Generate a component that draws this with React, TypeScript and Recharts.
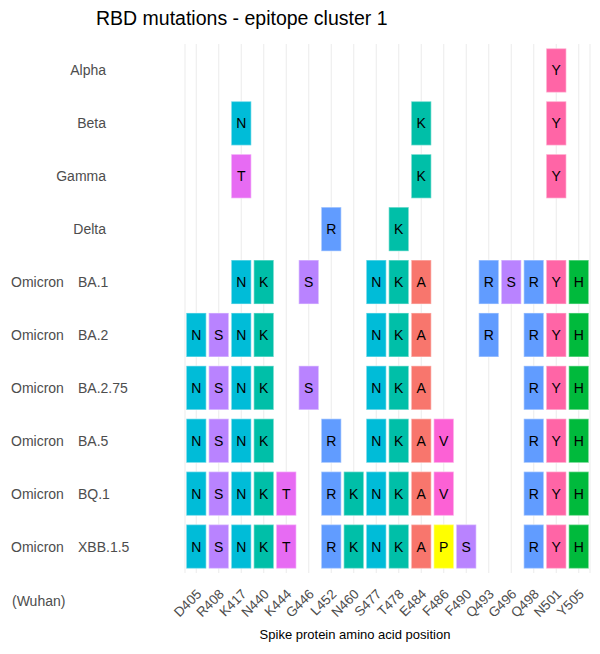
import React from 'react';
import { ScatterChart, Scatter, XAxis, YAxis, CartesianGrid } from 'recharts';

// spike positions (x axis) and variants (y axis, top to bottom)
const positions = [
  'D405', 'R408', 'K417', 'N440', 'K444', 'G446', 'L452', 'N460', 'S477',
  'T478', 'E484', 'F486', 'F490', 'Q493', 'G496', 'Q498', 'N501', 'Y505',
];
const variants = [
  'Alpha', 'Beta', 'Gamma', 'Delta', 'Omicron BA.1', 'Omicron BA.2',
  'Omicron BA.2.75', 'Omicron BA.5', 'Omicron BQ.1', 'Omicron XBB.1.5',
];

// mutations per variant, wild type + position + new residue
const alphaMuts = ['N501Y'];
const betaMuts = ['K417N', 'E484K', 'N501Y'];
const gammaMuts = ['K417T', 'E484K', 'N501Y'];
const deltaMuts = ['L452R', 'T478K'];
const ba1Muts = ['K417N', 'N440K', 'G446S', 'S477N', 'T478K', 'E484A', 'Q493R', 'G496S', 'Q498R', 'N501Y', 'Y505H'];
const ba2Muts = ['D405N', 'R408S', 'K417N', 'N440K', 'S477N', 'T478K', 'E484A', 'Q493R', 'Q498R', 'N501Y', 'Y505H'];
const ba275Muts = ['D405N', 'R408S', 'K417N', 'N440K', 'G446S', 'S477N', 'T478K', 'E484A', 'Q498R', 'N501Y', 'Y505H'];
const ba5Muts = ['D405N', 'R408S', 'K417N', 'N440K', 'L452R', 'S477N', 'T478K', 'E484A', 'F486V', 'Q498R', 'N501Y', 'Y505H'];
const bq1Muts = ['D405N', 'R408S', 'K417N', 'N440K', 'K444T', 'L452R', 'N460K', 'S477N', 'T478K', 'E484A', 'F486V', 'Q498R', 'N501Y', 'Y505H'];
const xbbMuts = ['D405N', 'R408S', 'K417N', 'N440K', 'K444T', 'L452R', 'N460K', 'S477N', 'T478K', 'E484A', 'F486P', 'F490S', 'Q498R', 'N501Y', 'Y505H'];

const allMuts = [alphaMuts, betaMuts, gammaMuts, deltaMuts, ba1Muts, ba2Muts, ba275Muts, ba5Muts, bq1Muts, xbbMuts];

const AA_COLORS: Record<string, string> = {
  A: '#F8766D',
  H: '#00BA3C',
  K: '#00BFA8',
  N: '#00BCD8',
  P: '#FFFF00',
  R: '#619CFF',
  S: '#B983FF',
  T: '#E76BF3',
  V: '#FC61D5',
  Y: '#FF65A6',
};

const FONT = '"Liberation Sans", Arial, Helvetica, sans-serif';

const points = allMuts.flatMap((muts, vi) =>
  muts.map((m) => ({
    x: positions.indexOf(m.slice(0, -1)),
    y: vi,
    aa: m.slice(-1),
  }))
);

const TILE_W = 20;
const TILE_H = 44;

const Tile = (props: any) => {
  const { cx, cy, payload } = props;
  if (cx == null || cy == null) return null;
  const fill = AA_COLORS[payload.aa] || '#999';
  return (
    <g>
      <rect
        x={cx - TILE_W / 2}
        y={cy - TILE_H / 2}
        width={TILE_W}
        height={TILE_H}
        fill={fill}
        stroke="rgba(255,255,255,0.35)"
        strokeWidth={1.5}
      />
      <text x={cx} y={cy + 5} textAnchor="middle" fontSize={14} fontFamily={FONT} fill="#000">
        {payload.aa}
      </text>
    </g>
  );
};

const YTick = (props: any) => {
  const { y, payload } = props;
  const label = variants[payload.value] ?? '';
  if (label.startsWith('Omicron')) {
    const sub = label.slice(8);
    return (
      <g fontFamily={FONT} fontSize={14} fill="#4D4D4D">
        <text x={11} y={y + 5}>Omicron</text>
        <text x={78} y={y + 5}>{sub}</text>
      </g>
    );
  }
  return (
    <text x={106} y={y + 5} textAnchor="end" fontFamily={FONT} fontSize={14} fill="#4D4D4D">
      {label}
    </text>
  );
};

const XTick = (props: any) => {
  const { x, y, payload } = props;
  const ax = x + 6;
  const ay = y + 14;
  return (
    <text
      x={ax}
      y={ay}
      transform={`rotate(-45, ${ax}, ${ay})`}
      textAnchor="end"
      fontFamily={FONT}
      fontSize={13.5}
      fill="#4D4D4D"
    >
      {positions[payload.value]}
    </text>
  );
};

export default function App() {
  return (
    <div style={{ position: 'relative', width: 600, height: 654, fontFamily: FONT, background: '#fff' }}>
      <style>{'body{margin:0}'}</style>
      <div style={{ position: 'absolute', left: 96, top: 7, fontSize: 19.5, lineHeight: '22px', color: '#000', whiteSpace: 'nowrap' }}>
        RBD mutations - epitope cluster 1
      </div>
      <ScatterChart width={600} height={654} margin={{ top: 44, right: 10, bottom: 0, left: 0 }}>
        <CartesianGrid horizontal={false} stroke="#EBEBEB" strokeWidth={1} />
        <XAxis
          type="number"
          dataKey="x"
          domain={[-0.5, positions.length - 0.5]}
          ticks={positions.map((_, i) => i)}
          interval={0}
          height={81}
          axisLine={false}
          tickLine={false}
          tick={<XTick />}
        />
        <YAxis
          type="number"
          dataKey="y"
          domain={[-0.5, variants.length - 0.5]}
          ticks={variants.map((_, i) => i)}
          interval={0}
          reversed
          width={185}
          axisLine={false}
          tickLine={false}
          tick={<YTick />}
        />
        <Scatter data={points} shape={<Tile />} isAnimationActive={false} />
      </ScatterChart>
      <div style={{ position: 'absolute', left: 12, top: 593, fontSize: 14, lineHeight: '16px', color: '#4D4D4D' }}>
        (Wuhan)
      </div>
      <div
        style={{
          position: 'absolute',
          left: 355,
          top: 627,
          transform: 'translateX(-50%)',
          fontSize: 13,
          lineHeight: '15px',
          color: '#000',
          whiteSpace: 'nowrap',
        }}
      >
        Spike protein amino acid position
      </div>
    </div>
  );
}
